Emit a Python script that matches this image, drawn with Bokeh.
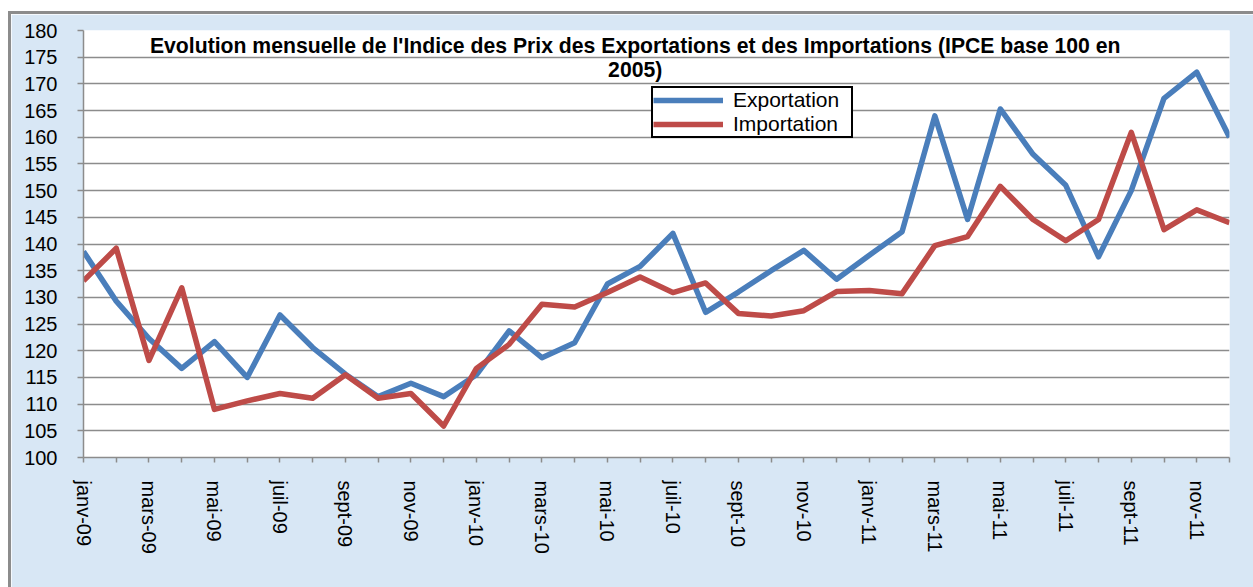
import math
from bokeh.plotting import figure
from bokeh.models import FixedTicker, Label, Range1d
from bokeh.embed import file_html
from bokeh.resources import INLINE

# ---- data -------------------------------------------------------------
months = ["janv-09", "févr-09", "mars-09", "avr-09", "mai-09", "juin-09",
          "juil-09", "août-09", "sept-09", "oct-09", "nov-09", "déc-09",
          "janv-10", "févr-10", "mars-10", "avr-10", "mai-10", "juin-10",
          "juil-10", "août-10", "sept-10", "oct-10", "nov-10", "déc-10",
          "janv-11", "févr-11", "mars-11", "avr-11", "mai-11", "juin-11",
          "juil-11", "août-11", "sept-11", "oct-11", "nov-11", "déc-11"]

exportation = [138.6, 129.3, 122.3, 116.7, 121.7, 115.0, 126.7, 120.6, 115.6,
               111.4, 113.9, 111.4, 115.5, 123.7, 118.7, 121.5, 132.5, 135.8,
               142.0, 127.2, 131.0, 135.0, 138.8, 133.4, 137.9, 142.3, 164.0,
               144.6, 165.3, 156.8, 151.0, 137.6, 150.0, 167.3, 172.2, 160.0]

importation = [133.1, 139.2, 118.2, 131.8, 109.0, 110.6, 112.0, 111.1, 115.5,
               111.1, 112.0, 105.9, 116.7, 121.2, 128.7, 128.2, 130.9, 133.8,
               130.9, 132.7, 127.0, 126.5, 127.5, 131.1, 131.3, 130.7, 139.7,
               141.4, 150.8, 144.6, 140.6, 144.6, 160.9, 142.7, 146.4, 144.0]

y_ticks = [100, 105, 110, 115, 120, 125, 130, 135, 140, 145, 150, 155, 160,
           165, 170, 175, 180]

title_line1 = ("Evolution mensuelle de l'Indice des Prix des Exportations "
               "et des Importations (IPCE base 100 en")
title_line2 = "2005)"

# ---- figure -----------------------------------------------------------
FONT = "Liberation Sans"
idx = list(range(len(months)))

p = figure(width=1242, height=573, output_backend="svg", toolbar_location=None,
           x_range=Range1d(0, len(months) - 1), y_range=Range1d(100, 180),
           min_border_left=72, min_border_right=24, min_border_top=16,
           min_border_bottom=130,
           background_fill_color="white", border_fill_color="#d8e7f5",
           outline_line_color=None, margin=(14, 0, 0, 11),
           styles={"outline": "3px solid #8c8c8c"})

p.line(idx, exportation, line_color="#4a7ebb", line_width=5.5,
       line_join="round", legend_label="Exportation")
p.line(idx, importation, line_color="#be4b48", line_width=5.5,
       line_join="round", legend_label="Importation")

# x axis
p.xaxis.ticker = FixedTicker(ticks=idx)
p.xaxis.major_label_overrides = {i: (m if i % 2 == 0 else "")
                                 for i, m in enumerate(months)}
p.xaxis.major_label_orientation = -math.pi / 2
p.xaxis.major_label_standoff = 18
p.xaxis.minor_tick_line_color = None
p.xaxis.major_tick_in = 0
p.xaxis.major_tick_out = 5
p.xgrid.visible = False

# y axis
p.yaxis.ticker = FixedTicker(ticks=y_ticks)
p.yaxis.minor_tick_line_color = None
p.yaxis.major_tick_in = 0
p.yaxis.major_tick_out = 6
p.yaxis.major_label_standoff = 20
p.ygrid.grid_line_color = "#8c8c8c"
p.ygrid.grid_line_width = 1.5

for ax in (p.xaxis, p.yaxis):
    ax.axis_line_color = "#8c8c8c"
    ax.axis_line_width = 1.5
    ax.major_tick_line_color = "#8c8c8c"
    ax.major_tick_line_width = 1.5
    ax.major_label_text_font = FONT
    ax.major_label_text_font_size = "20px"
    ax.major_label_text_color = "black"

# title inside the plot area
for txt, yy in ((title_line1, 177.2), (title_line2, 172.6)):
    p.add_layout(Label(x=16.85, y=yy, text=txt, text_align="center",
                       text_baseline="alphabetic", text_font=FONT,
                       text_font_size="21.2px", text_font_style="bold",
                       text_color="black"))

# legend
lg = p.legend[0]
lg.location = (568, 319)
lg.orientation = "vertical"
lg.background_fill_color = "white"
lg.background_fill_alpha = 1.0
lg.border_line_color = "black"
lg.border_line_alpha = 1.0
lg.border_line_width = 2
lg.padding = 0
lg.spacing = 0
lg.margin = 0
lg.glyph_width = 70
lg.glyph_height = 20
lg.label_height = 20
lg.label_width = 118
lg.label_standoff = 10
lg.label_text_font = FONT
lg.label_text_font_size = "21px"
lg.label_text_color = "black"

open("out.html", "w").write(file_html(p, INLINE))
